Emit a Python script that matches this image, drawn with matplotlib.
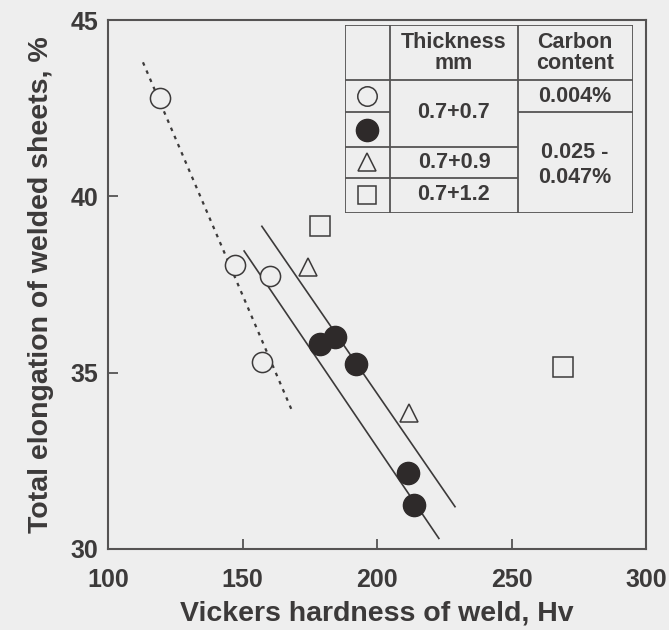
import matplotlib.pyplot as plt

# ----------------- Data -----------------
# 0.7+0.7 mm, C = 0.004 %
low_c_hv = [119.3, 147.2, 160.2, 157.2]
low_c_el = [42.8, 38.05, 37.75, 35.3]

# 0.7+0.7 mm, C = 0.025 - 0.047 %
high_c_hv = [178.8, 184.4, 192.2, 211.5, 213.7]
high_c_el = [35.8, 36.0, 35.25, 32.15, 31.25]

# 0.7+0.9 mm
t09_hv = [174.3, 211.9]
t09_el = [38.0, 33.85]

# 0.7+1.2 mm
t12_hv = [178.8, 269.1]
t12_el = [39.15, 35.15]

# trend lines (end points)
dotted_hv = [113.0, 168.8]
dotted_el = [43.8, 33.85]
lower_hv = [150.6, 223.0]
lower_el = [38.45, 30.3]
upper_hv = [157.2, 229.0]
upper_el = [39.15, 31.2]

x_ticks = [100, 150, 200, 250, 300]
y_ticks = [30, 35, 40, 45]

BG = '#eeeeee'
INK = '#3c3a3a'
EDGE = '#555353'
DARK = '#2e2a2a'

plt.rcParams['font.family'] = ['Liberation Sans', 'DejaVu Sans']


# ----------------- Functions -----------------
def draw_table(fig):
    # table box in pixel units (288 x 188), y grows downward
    tab = fig.add_axes([345 / 669, 1 - 213 / 630, 288 / 669, 188 / 630])
    tab.set_xlim(0, 288)
    tab.set_ylim(188, 0)
    tab.axis('off')
    lw = 1.3
    segs = [
        ([0, 288], [0, 0]), ([0, 288], [188, 188]),
        ([0, 0], [0, 188]), ([288, 288], [0, 188]),
        ([45, 45], [0, 188]), ([173, 173], [0, 188]),
        ([0, 288], [55, 55]),
        ([0, 45], [87, 87]), ([173, 288], [87, 87]),
        ([0, 173], [122, 122]), ([0, 173], [153, 153]),
    ]
    for xs, ys in segs:
        tab.plot(xs, ys, color=EDGE, lw=lw, solid_capstyle='butt')

    # symbols
    tab.plot(22, 71, 'o', ms=14, mfc=BG, mec=INK, mew=1.1)
    tab.plot(22, 105, 'o', ms=16, mfc=DARK, mec=DARK)
    tab.plot(22, 137, '^', ms=13, mfc=BG, mec=INK, mew=1.1)
    tab.plot(22, 170, 's', ms=13, mfc=BG, mec=INK, mew=1.1)

    kw = dict(ha='center', va='center', color=INK, fontsize=15.5,
              fontweight='bold', linespacing=0.95)
    tab.text(109, 28, 'Thickness\nmm', **kw)
    tab.text(230, 28, 'Carbon\ncontent', **kw)
    tab.text(109, 88, '0.7+0.7', **kw)
    tab.text(230, 71, '0.004%', **kw)
    kw['linespacing'] = 1.2
    tab.text(230, 140, '0.025 -\n0.047%', **kw)
    tab.text(109, 138, '0.7+0.9', **kw)
    tab.text(109, 170, '0.7+1.2', **kw)


def plot_elongation():
    fig = plt.figure(figsize=(6.69, 6.30), dpi=100, facecolor=BG)
    ax = fig.add_axes([108 / 669, 1 - 549 / 630, 538 / 669, 529 / 630])
    ax.set_facecolor(BG)

    # trend lines
    ax.plot(dotted_hv, dotted_el, color=INK, lw=1.6, ls=(0, (1.6, 2.4)))
    ax.plot(lower_hv, lower_el, color=INK, lw=1.2)
    ax.plot(upper_hv, upper_el, color=INK, lw=1.2)

    # measured points
    ax.plot(low_c_hv, low_c_el, 'o', ms=14.5, mfc=BG, mec=INK, mew=1.1, zorder=3)
    ax.plot(high_c_hv, high_c_el, 'o', ms=16, mfc=DARK, mec=DARK, zorder=3)
    ax.plot(t09_hv, t09_el, '^', ms=13, mfc=BG, mec=INK, mew=1.1, zorder=3)
    ax.plot(t12_hv, t12_el, 's', ms=14, mfc=BG, mec=INK, mew=1.1, zorder=3)

    ax.set_xlim(100, 300)
    ax.set_ylim(30, 45)
    ax.set_xticks(x_ticks)
    ax.set_yticks(y_ticks)
    ax.tick_params(direction='in', length=7, width=1.3, color=EDGE,
                   labelsize=18, labelcolor=INK)
    ax.tick_params(axis='x', pad=14)
    ax.tick_params(axis='y', pad=7)
    for lab in ax.get_xticklabels() + ax.get_yticklabels():
        lab.set_fontweight('bold')
    for sp in ax.spines.values():
        sp.set_color(EDGE)
        sp.set_linewidth(1.5)

    ax.set_xlabel('Vickers hardness of weld, Hv', fontsize=20.5,
                  fontweight='bold', color=INK, labelpad=6)
    ax.set_ylabel('Total elongation of welded sheets, %', fontsize=20.5,
                  fontweight='bold', color=INK, labelpad=12)

    draw_table(fig)
    fig.savefig('out.png', dpi=100, facecolor=BG)
    plt.close(fig)


if __name__ == '__main__':
    plot_elongation()
